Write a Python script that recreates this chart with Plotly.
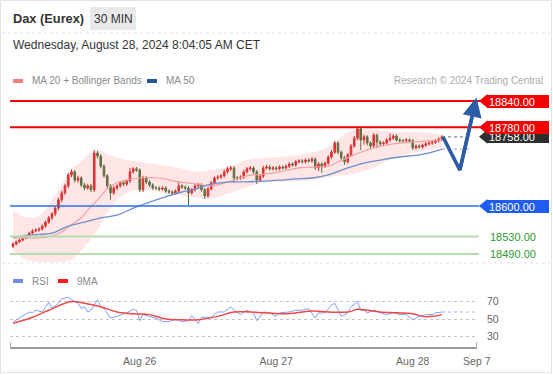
import plotly.graph_objects as go

# ---------------- data ----------------
tick_vals = [39, 81, 123, 142.7]
tick_labels = ["Aug 26", "Aug 27", "Aug 28", "Sep 7"]

opens = [18508,18513,18518,18522,18527,18531,18538,18543,18545,18547,
 18554,18563,18573,18582,18595,18614,18630,18646,18671,18678,
 18659,18664,18648,18641,18646,18637,18721,18714,18691,18669,
 18646,18630,18641,18646,18653,18650,18657,18678,18685,18682,
 18637,18664,18655,18648,18641,18641,18639,18641,18634,18632,
 18630,18634,18646,18643,18641,18630,18637,18646,18648,18637,
 18623,18639,18653,18664,18666,18669,18678,18685,18687,18664,
 18664,18666,18678,18685,18687,18678,18659,18668,18687,18689,
 18685,18687,18685,18689,18687,18691,18696,18694,18701,18703,
 18701,18705,18703,18707,18687,18696,18691,18698,18712,18723,
 18744,18723,18710,18701,18717,18737,18755,18776,18751,18758,
 18744,18737,18762,18746,18742,18744,18751,18755,18760,18751,
 18749,18749,18751,18749,18733,18737,18735,18739,18742,18744,
 18746,18749,18753]
closes = [18513,18518,18522,18527,18531,18538,18543,18545,18547,18554,
 18563,18573,18582,18595,18614,18630,18646,18671,18678,18659,
 18664,18648,18641,18646,18637,18721,18714,18691,18669,18646,
 18630,18641,18646,18653,18650,18657,18678,18685,18682,18637,
 18664,18655,18648,18641,18641,18639,18641,18634,18632,18630,
 18634,18646,18643,18641,18630,18637,18646,18648,18637,18623,
 18639,18653,18664,18666,18669,18678,18685,18687,18664,18664,
 18666,18678,18685,18687,18678,18659,18668,18687,18689,18685,
 18687,18685,18689,18687,18691,18696,18694,18701,18703,18701,
 18705,18703,18707,18687,18696,18691,18698,18712,18723,18744,
 18723,18710,18701,18717,18737,18755,18776,18751,18758,18744,
 18737,18762,18746,18742,18744,18751,18755,18760,18751,18749,
 18749,18751,18749,18733,18737,18735,18739,18742,18744,18746,
 18749,18753,18758]
highs = [18517,18521,18526,18531,18535,18541,18547,18549,18551,18558,
 18567,18577,18586,18600,18619,18635,18651,18676,18684,18682,
 18669,18668,18653,18651,18650,18728,18726,18718,18695,18673,
 18650,18646,18650,18657,18658,18661,18687,18689,18689,18686,
 18669,18668,18659,18652,18645,18645,18645,18645,18638,18636,
 18638,18657,18650,18647,18645,18641,18650,18653,18652,18641,
 18643,18657,18668,18671,18673,18683,18690,18692,18691,18669,
 18670,18683,18689,18691,18691,18682,18672,18692,18694,18693,
 18691,18691,18693,18693,18695,18700,18700,18705,18707,18707,
 18709,18709,18712,18711,18700,18700,18702,18716,18728,18749,
 18748,18727,18714,18721,18742,18760,18780,18780,18763,18762,
 18748,18767,18766,18750,18748,18755,18766,18764,18764,18755,
 18753,18755,18755,18753,18741,18741,18743,18746,18748,18750,
 18753,18757,18762]
lows = [18504,18510,18515,18519,18524,18528,18535,18540,18541,18544,
 18550,18559,18568,18577,18590,18609,18625,18641,18666,18654,
 18653,18643,18636,18637,18632,18632,18708,18686,18664,18640,
 18614,18625,18636,18642,18645,18646,18653,18674,18678,18632,
 18632,18650,18643,18637,18637,18634,18635,18630,18628,18626,
 18626,18630,18639,18637,18602,18626,18633,18642,18633,18616,
 18619,18635,18649,18660,18662,18665,18674,18680,18653,18659,
 18660,18662,18674,18681,18673,18650,18655,18664,18683,18681,
 18681,18681,18681,18683,18683,18687,18690,18690,18697,18697,
 18697,18699,18699,18682,18680,18676,18687,18694,18708,18719,
 18718,18703,18694,18697,18713,18733,18750,18728,18740,18738,
 18730,18733,18733,18737,18738,18740,18747,18751,18747,18745,
 18745,18745,18745,18728,18729,18731,18731,18735,18738,18740,
 18742,18745,18749]

band_idx = [0,4,8,12,15,18,21,23,26,29,32,35,39,45,51,57,61,67,72,77,82,88,92,97,100,103,107,111,117,123,128,132]
ma20 = [18527,18527,18527,18531,18541,18557,18573,18591,18614,18639,18653,18659,18664,18664,18655,18650,
        18646,18657,18669,18673,18678,18687,18689,18691,18701,18710,18723,18733,18742,18746,18749,18751]
bb_upper = [18591,18575,18577,18614,18648,18685,18701,18717,18728,18719,18710,18705,18701,18694,18687,18678,
            18682,18691,18705,18710,18712,18717,18723,18735,18751,18769,18774,18774,18769,18769,18767,18762]
bb_lower = [18499,18477,18472,18472,18472,18477,18497,18515,18545,18584,18614,18630,18637,18632,18625,18618,
            18616,18630,18643,18653,18655,18657,18659,18666,18669,18671,18678,18687,18710,18721,18728,18735]

ma50_idx = [0,6,12,17,22,27,32,37,42,47,52,57,61,67,72,77,82,87,92,97,103,108,113,119,125,129,132]
ma50 = [18529,18534,18538,18554,18563,18573,18579,18595,18609,18621,18632,18641,18650,18655,
        18655,18657,18659,18662,18664,18671,18687,18698,18705,18712,18717,18723,18730]

rsi_idx = [0,2,5,6,7,9,11,12,14,15,17,18,20,21,22,23,24,26,27,28,30,32,35,37,38,39,40,42,44,46,
           48,50,52,54,55,57,58,61,63,65,67,68,70,72,74,75,77,79,81,82,85,87,89,91,93,94,96,98,99,101,
           103,104,106,107,108,109,111,113,115,117,119,121,123,125,127,129,130,132]
rsi = [46.6,51,58,57,60,58,69,62.6,68,73,75,72,68,62,64,58,60,72,64,62,51,53,57,61,60,48,55,53,51,47,
       47,50,47,48,54,45,52,52,58,58,64,60,55,60,57,48,58,57,53,57,58,60,60,62,51,57,57,66,68,53,
       57,64,70,60,60,57,60,57,55,57,55,55,49,53,55,55,57,58]
rsi_ma_idx = [0,6,11,18,22,27,32,37,42,47,52,57,63,68,73,78,82,87,92,97,103,106,109,113,118,123,126,129,132]
rsi_ma = [45,52,60,70,68,64,58,56,55,50,49,49,53,58,58,57,56,57,59,58,58,61,60,58,57,56,53,53,55]

resistances = [18840, 18780]
last_price = 18758
pivot = 18600
supports = [18530, 18490]
forecast_idx = [132.3, 137.5, 142.0]
forecast_val = [18758, 18682, 18828]
forecast_target = 18848
rsi_levels = [30, 50, 70]

# ---------------- layout helpers ----------------
W, H = 553, 375
ML, MR = 10, 76
PW = W - ML - MR
X_END = 142.77
X_RANGE = [-0.92, X_END]


def fx(px):
    return (px - ML) / PW


def fy(py):
    return 1 - py / H


FONT = "Liberation Sans, Arial, sans-serif"
candle_x = list(range(len(closes)))

fig = go.Figure()

# Bollinger band
fig.add_trace(go.Scatter(x=band_idx, y=bb_upper, mode="lines", line=dict(width=0, shape="spline"),
                         hoverinfo="skip", showlegend=False))
fig.add_trace(go.Scatter(x=band_idx, y=bb_lower, mode="lines", line=dict(width=0, shape="spline"),
                         fill="tonexty", fillcolor="rgba(250,120,120,0.19)", hoverinfo="skip", showlegend=False))
fig.add_trace(go.Scatter(x=band_idx, y=ma20, mode="lines", line=dict(color="#f3a0a0", width=1.2, shape="spline"),
                         hoverinfo="skip", showlegend=False))
fig.add_trace(go.Scatter(x=ma50_idx, y=ma50, mode="lines", line=dict(color="#6f8fcc", width=1.3, shape="spline"),
                         hoverinfo="skip", showlegend=False))
fig.add_trace(go.Scatter(x=[ma50_idx[-1], X_END - 2], y=[ma50[-1], ma50[-1]], mode="lines",
                         line=dict(color="#9db3e6", width=1.2, dash="dot"), hoverinfo="skip", showlegend=False))
fig.add_trace(go.Scatter(x=[candle_x[-1], X_END - 2], y=[last_price, last_price], mode="lines",
                         line=dict(color="#8a8a8a", width=1.2, dash="dot"), hoverinfo="skip", showlegend=False))

fig.add_trace(go.Candlestick(x=candle_x, open=opens, high=highs, low=lows, close=closes,
                             increasing=dict(line=dict(color="#d42222", width=1), fillcolor="#e02020"),
                             decreasing=dict(line=dict(color="#3d6f35", width=1), fillcolor="#3d6f35"),
                             whiskerwidth=0, hoverinfo="skip", showlegend=False))

# forecast path
fig.add_trace(go.Scatter(x=forecast_idx, y=forecast_val, mode="lines",
                         line=dict(color="#2d5ca6", width=3.5), hoverinfo="skip", showlegend=False,
                         cliponaxis=False))

# RSI panel
fig.add_trace(go.Scatter(x=rsi_idx, y=rsi, xaxis="x2", yaxis="y2", mode="lines",
                         line=dict(color="#7f9ff0", width=1), hoverinfo="skip", showlegend=False))
fig.add_trace(go.Scatter(x=[rsi_idx[-1], X_END], y=[rsi[-1], rsi[-1]], xaxis="x2", yaxis="y2", mode="lines",
                         line=dict(color="#9db3f0", width=1.2, dash="dot"), hoverinfo="skip", showlegend=False))
fig.add_trace(go.Scatter(x=rsi_ma_idx, y=rsi_ma, xaxis="x2", yaxis="y2", mode="lines",
                         line=dict(color="#f04848", width=1.5, shape="spline"), hoverinfo="skip", showlegend=False))

shapes = []
annotations = []

# card border and separators
shapes.append(dict(type="rect", xref="paper", yref="paper", x0=fx(0.5), x1=fx(551.5), y0=fy(0.5), y1=fy(372.5),
                   line=dict(color="#e2e2e2", width=1), layer="below"))
for sep in (33, 263):
    shapes.append(dict(type="line", xref="paper", yref="paper", x0=fx(2), x1=fx(550), y0=fy(sep), y1=fy(sep),
                       line=dict(color="#e4e4e4", width=1, dash="dot"), layer="below"))

# header
shapes.append(dict(type="rect", xref="paper", yref="paper", x0=fx(90), x1=fx(136), y0=fy(30), y1=fy(7),
                   fillcolor="#e9e9ec", line=dict(width=0), layer="below"))
annotations.append(dict(text="<b>Dax (Eurex)</b>", xref="paper", yref="paper", x=fx(11), y=fy(18),
                        xanchor="left", yanchor="middle", showarrow=False,
                        font=dict(family=FONT, size=12.8, color="#333333")))
annotations.append(dict(text="30 MIN", xref="paper", yref="paper", x=fx(113), y=fy(18.5),
                        xanchor="center", yanchor="middle", showarrow=False,
                        font=dict(family=FONT, size=12, color="#333333")))
annotations.append(dict(text="Wednesday, August 28, 2024 8:04:05 AM CET", xref="paper", yref="paper",
                        x=fx(11), y=fy(45), xanchor="left", yanchor="middle", showarrow=False,
                        font=dict(family=FONT, size=12, color="#333333")))

# legends
def legend_item(x_sw, y, color, label):
    shapes.append(dict(type="rect", xref="paper", yref="paper", x0=fx(x_sw), x1=fx(x_sw + 10),
                       y0=fy(y + 2), y1=fy(y - 2), fillcolor=color, line=dict(width=0)))
    annotations.append(dict(text=label, xref="paper", yref="paper", x=fx(x_sw + 17), y=fy(y),
                            xanchor="left", yanchor="middle", showarrow=False,
                            font=dict(family=FONT, size=10, color="#8a8a8a")))

legend_item(13, 81, "#f77d7d", "MA 20 + Bollinger Bands")
legend_item(147, 81, "#2a5599", "MA 50")
legend_item(13, 281, "#6f8fe8", "RSI")
legend_item(58, 281, "#ff1a1a", "9MA")
annotations.append(dict(text="Research © 2024 Trading Central", xref="paper", yref="paper", x=fx(545), y=fy(81),
                        xanchor="right", yanchor="middle", showarrow=False,
                        font=dict(family=FONT, size=10, color="#ababab")))

# price levels
def level_line(val, color, width, end_px):
    shapes.append(dict(type="line", xref="paper", yref="y", x0=0, x1=fx(end_px), y0=val, y1=val,
                       line=dict(color=color, width=width)))


def level_label(val, bg, txt_color="#ffffff"):
    half = 7 / 0.4375
    shapes.append(dict(type="path", xref="paper", yref="y",
                       path=f"M {fx(479)},{val} L {fx(487.5)},{val + half} L {fx(487.5)},{val - half} Z",
                       fillcolor=bg, line=dict(width=0)))
    annotations.append(dict(text=f"{val:.2f}", xref="paper", yref="y", x=fx(487), y=val,
                            xanchor="left", yanchor="middle", showarrow=False, align="left",
                            width=58, height=9, borderpad=2, borderwidth=0, bgcolor=bg,
                            font=dict(family=FONT, size=11, color=txt_color)))


level_label(last_price, "#2e2e2e")
for r in resistances:
    level_line(r, "#f20000", 2, 480)
    level_label(r, "#f50000")
level_line(pivot, "#2b6ef0", 1.5, 479)
level_label(pivot, "#1f5cf2")
for s in supports:
    level_line(s, "#b4dcae", 2, 479)
    annotations.append(dict(text=f"{s:.2f}", xref="paper", yref="y", x=fx(488), y=s,
                            xanchor="left", yanchor="middle", showarrow=False,
                            font=dict(family=FONT, size=11, color="#2f9a2f")))

# forecast arrow head
annotations.append(dict(text="", x=142.6, y=forecast_target, xref="x", yref="y",
                        ax=forecast_idx[1], ay=forecast_val[1], axref="x", ayref="y",
                        showarrow=True, arrowhead=2, arrowsize=1.1, arrowwidth=3.5, arrowcolor="#2d5ca6"))

# x-axis end ticks
for xv in (X_RANGE[0], X_END):
    shapes.append(dict(type="line", xref="x2", yref="paper", x0=xv, x1=xv, y0=fy(347), y1=fy(342),
                       line=dict(color="#9a9a9a", width=1.5)))

fig.update_layout(
    width=W, height=H,
    margin=dict(l=ML, r=MR, t=0, b=0),
    paper_bgcolor="#ffffff", plot_bgcolor="rgba(0,0,0,0)",
    font=dict(family=FONT),
    showlegend=False,
    xaxis=dict(domain=[0, 1], range=X_RANGE, visible=False, anchor="y", rangeslider=dict(visible=False)),
    yaxis=dict(domain=[fy(265), fy(90)], range=[18465.14, 18865.14], visible=False),
    xaxis2=dict(domain=[0, 1], range=X_RANGE, anchor="y2", showline=True, linecolor="#9a9a9a", linewidth=1.5,
                tickvals=tick_vals, ticktext=tick_labels, ticks="", showgrid=False, zeroline=False,
                tickfont=dict(family=FONT, size=10.5, color="#666666"), ticklabelstandoff=4),
    yaxis2=dict(domain=[fy(347), fy(285)], range=[18, 88.857], side="right", tickvals=rsi_levels,
                showgrid=True, gridcolor="#c4c4c4", griddash="dot", gridwidth=1, ticks="", showline=False,
                zeroline=False, tickfont=dict(family=FONT, size=10.5, color="#666666"), ticklabelstandoff=9),
    shapes=shapes,
    annotations=annotations,
)

fig.write_html("out.html", config={"displayModeBar": False},
               post_script="document.body.style.margin='0';")
